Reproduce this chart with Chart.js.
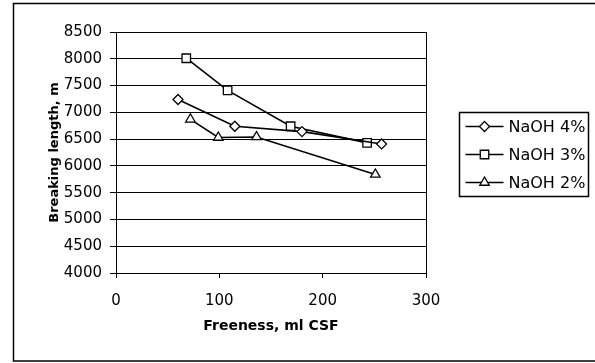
<!DOCTYPE html>
<html>
<head>
<meta charset="utf-8">
<script src="https://cdn.jsdelivr.net/npm/chart.js@4.4.0/dist/chart.umd.min.js"></script>
<style>
  html, body { margin: 0; padding: 0; background: #fff; }
</style>
</head>
<body>
<canvas id="chart" width="595" height="363"></canvas>
<script>
// values
const seriesNames = ["NaOH 4%", "NaOH 3%", "NaOH 2%"];
const naoh4Freeness = [60, 115, 180, 257];
const naoh4Length = [7240, 6740, 6640, 6410];
const naoh3Freeness = [68, 108, 169, 243];
const naoh3Length = [8010, 7410, 6740, 6430];
const naoh2Freeness = [72, 99, 136, 251];
const naoh2Length = [6870, 6530, 6540, 5840];
const markerStyles = ["rectRot", "rect", "triangle"];
const markerSizes = [5, 6, 5.5];

const xTitle = "Freeness, ml CSF";
const yTitle = "Breaking length, m";

const toPoints = (xs, ys) => xs.map((x, i) => ({ x: x, y: ys[i] }));
const allPoints = [
  toPoints(naoh4Freeness, naoh4Length),
  toPoints(naoh3Freeness, naoh3Length),
  toPoints(naoh2Freeness, naoh2Length),
];

const datasets = seriesNames.map((name, i) => ({
  label: name,
  data: allPoints[i],
  borderColor: "#000",
  borderWidth: 1.6,
  pointStyle: markerStyles[i],
  pointRadius: markerSizes[i],
  pointBackgroundColor: "#fff",
  pointBorderColor: "#000",
  pointBorderWidth: 1.3,
  tension: 0,
}));

const tickFont = { family: "DejaVu Sans", size: 15 };
const titleFont = { family: "DejaVu Sans", size: 14, weight: "bold" };

// white page, outer frame and right edge of the plot box
const framePlugin = {
  id: "frame",
  beforeDraw(chart) {
    const ctx = chart.ctx;
    ctx.save();
    ctx.fillStyle = "#fff";
    ctx.fillRect(0, 0, chart.width, chart.height);
    ctx.strokeStyle = "#000";
    ctx.lineWidth = 1.5;
    ctx.strokeRect(13.5, 3.5, 600, 357.5);
    ctx.restore();
  },
  beforeDatasetsDraw(chart) {
    const a = chart.chartArea;
    const ctx = chart.ctx;
    ctx.save();
    ctx.strokeStyle = "#000";
    ctx.lineWidth = 1;
    ctx.beginPath();
    ctx.moveTo(Math.round(a.right) + 0.5, a.top);
    ctx.lineTo(Math.round(a.right) + 0.5, a.bottom);
    ctx.stroke();
    ctx.restore();
  },
};

// boxed legend with line + marker samples, like the original
const legendPlugin = {
  id: "boxLegend",
  afterDraw(chart) {
    const ctx = chart.ctx;
    const box = { left: 459.5, top: 112.5, w: 129, h: 84 };
    ctx.save();
    ctx.strokeStyle = "#000";
    ctx.lineWidth = 1.5;
    ctx.strokeRect(box.left, box.top, box.w, box.h);
    ctx.font = "16px 'DejaVu Sans'";
    ctx.textBaseline = "middle";
    ctx.fillStyle = "#000";
    chart.data.datasets.forEach((ds, i) => {
      const y = box.top + 14 + i * 28;
      ctx.lineWidth = ds.borderWidth;
      ctx.strokeStyle = "#000";
      ctx.beginPath();
      ctx.moveTo(box.left + 6, y);
      ctx.lineTo(box.left + 44, y);
      ctx.stroke();
      ctx.fillStyle = "#fff";
      ctx.lineWidth = ds.pointBorderWidth;
      Chart.helpers.drawPoint(ctx, {
        pointStyle: ds.pointStyle,
        radius: ds.pointRadius,
        borderWidth: ds.pointBorderWidth,
        rotation: 0,
      }, box.left + 25, y);
      ctx.fillStyle = "#000";
      ctx.fillText(ds.label, box.left + 49, y + 1);
    });
    ctx.restore();
  },
};

new Chart(document.getElementById("chart"), {
  type: "line",
  data: { datasets: datasets },
  plugins: [framePlugin, legendPlugin],
  options: {
    responsive: false,
    animation: false,
    layout: { padding: { left: 0, top: 32, right: 169, bottom: 0 } },
    plugins: {
      legend: { display: false },
      tooltip: { enabled: false },
    },
    scales: {
      x: {
        type: "linear",
        min: 0,
        max: 300,
        ticks: { stepSize: 100, color: "#000", font: tickFont, padding: 14, callback: (v) => String(v) },
        grid: { drawOnChartArea: false, tickLength: 5, color: "#000" },
        border: { color: "#000", width: 1 },
        title: { display: true, text: xTitle, color: "#000", font: titleFont, padding: { top: 0, bottom: 28 } },
        afterFit: (s) => { s.height = 90; },
      },
      y: {
        min: 4000,
        max: 8500,
        ticks: { stepSize: 500, color: "#000", font: tickFont, padding: 8, callback: (v) => String(v) },
        grid: { color: "#000", tickLength: 6 },
        border: { color: "#000", width: 1 },
        title: { display: true, text: yTitle, color: "#000", font: { family: "DejaVu Sans", size: 13, weight: "bold" }, padding: { top: 47, bottom: 0 } },
        afterFit: (s) => { s.width = 116; },
      },
    },
  },
});
</script>
</body>
</html>
